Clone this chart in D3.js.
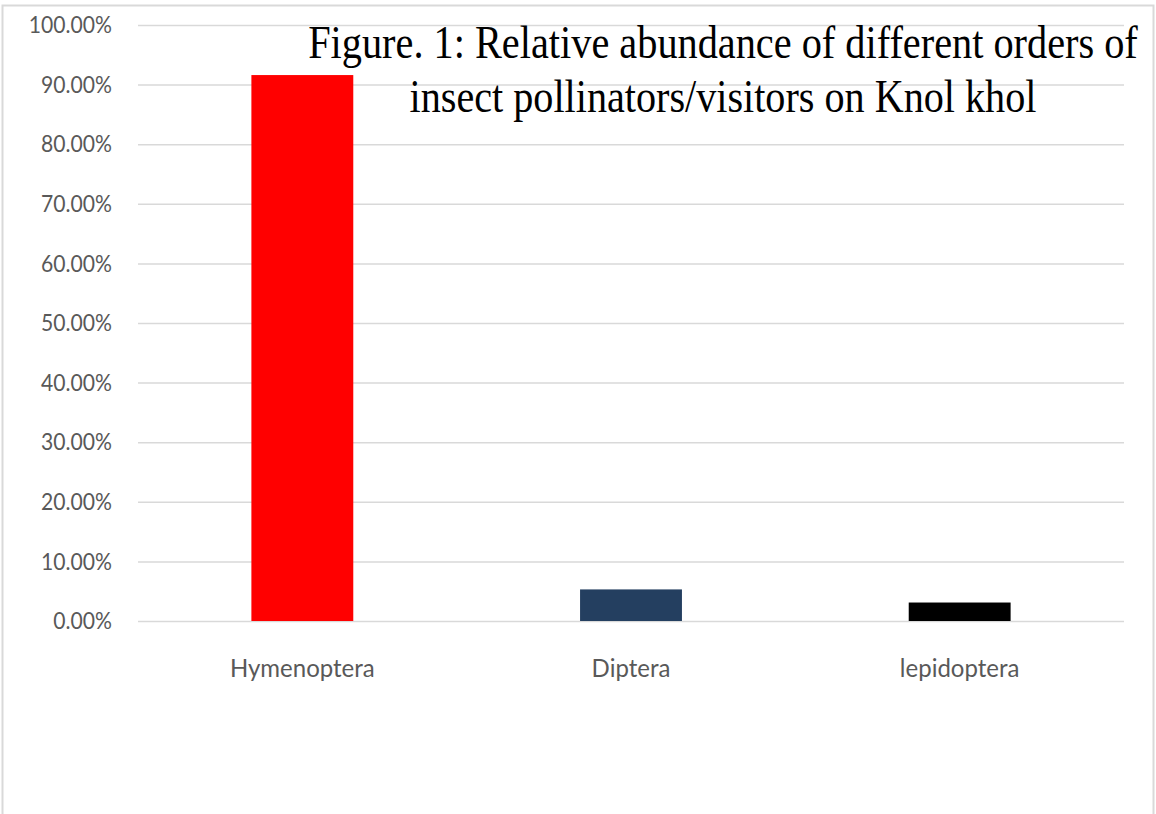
<!DOCTYPE html>
<html>
<head>
<meta charset="utf-8">
<script src="https://cdn.jsdelivr.net/npm/d3@7"></script>
<style>
  body { margin: 0; background: #fff; }
  svg { display: block; }
</style>
</head>
<body>
<div id="chart"></div>
<script>
// values
const orders = ["Hymenoptera", "Diptera", "lepidoptera"];
const abundance = [0.916, 0.053, 0.031];
const barColors = ["#ff0000", "#243f60", "#000000"];
const yTicks = [0, 0.1, 0.2, 0.3, 0.4, 0.5, 0.6, 0.7, 0.8, 0.9, 1.0];
const titleLines = ["Figure. 1: Relative abundance of different orders of",
                    "insect pollinators/visitors on Knol khol"];

const W = 1156, H = 814;
const margin = { top: 25, right: 32, bottom: 193, left: 138 };
const width = W - margin.left - margin.right,
    height = H - margin.top - margin.bottom;

const svg = d3.select("#chart").append("svg")
    .attr("width", W)
    .attr("height", H);

// chart area border
svg.append("rect")
    .attr("x", 2.5).attr("y", 5.5)
    .attr("width", W - 5).attr("height", H + 20)
    .attr("fill", "none")
    .attr("stroke", "#d9d9d9")
    .attr("stroke-width", 2);

const g = svg.append("g")
    .attr("transform", "translate(" + margin.left + "," + margin.top + ")");

const x = d3.scaleBand()
    .domain(orders)
    .range([0, width])
    .paddingInner(0.69)
    .paddingOuter(0.345);

const y = d3.scaleLinear()
    .domain([0, 1])
    .range([height, 0]);

// squeeze labels a bit, the original font is narrower than Lato
function condense(sel, k) {
    sel.each(function() {
        const len = this.getComputedTextLength();
        d3.select(this)
            .attr("textLength", len * k)
            .attr("lengthAdjust", "spacingAndGlyphs");
    });
}

// gridlines + y labels
const yAxis = g.append("g")
    .call(d3.axisLeft(y)
        .tickValues(yTicks)
        .tickSize(-width)
        .tickPadding(26)
        .tickFormat(d3.format(".2%")));
yAxis.select(".domain").remove();
yAxis.selectAll(".tick line")
    .attr("stroke", "#d9d9d9")
    .attr("stroke-width", 1.5);
yAxis.selectAll(".tick text")
    .attr("fill", "#595959")
    .style("font-family", "Lato, 'Open Sans', sans-serif")
    .style("font-size", "24px")
    .call(condense, 0.88);

// bars
g.selectAll(".bar")
    .data(orders)
    .enter().append("rect")
    .attr("class", "bar")
    .attr("x", d => x(d))
    .attr("y", (d, i) => y(abundance[i]))
    .attr("width", x.bandwidth())
    .attr("height", (d, i) => height - y(abundance[i]))
    .attr("fill", (d, i) => barColors[i]);

// x labels
const xAxis = g.append("g")
    .attr("transform", "translate(0," + height + ")")
    .call(d3.axisBottom(x).tickSize(0).tickPadding(38));
xAxis.select(".domain").remove();
xAxis.selectAll(".tick text")
    .attr("fill", "#595959")
    .style("font-family", "Lato, 'Open Sans', sans-serif")
    .style("font-size", "25px")
    .call(condense, 0.96);

// title, drawn over the plot, narrow serif -> scale horizontally
const titleWidths = [830, 627];
svg.append("g")
    .selectAll("text")
    .data(titleLines)
    .enter().append("text")
    .attr("text-anchor", "middle")
    .style("font-family", "'Liberation Serif', 'Times New Roman', serif")
    .style("font-size", "47px")
    .attr("fill", "#000")
    .text(d => d)
    .each(function(d, i) {
        const k = titleWidths[i] / this.getComputedTextLength();
        d3.select(this).attr("transform",
            "translate(723," + (58 + i * 54) + ") scale(" + k + ",1)");
    });
</script>
</body>
</html>
